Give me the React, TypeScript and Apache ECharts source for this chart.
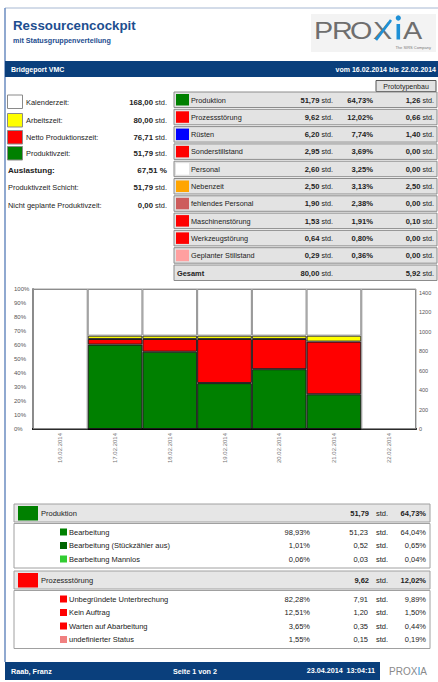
import React, { useEffect, useRef } from "react";
import * as echarts from "echarts";

const FONT = '"Liberation Sans", Arial, Helvetica, sans-serif';

// ---- chart data (minutes per day, 1440 = 100 %) ----
const days = ["16.02.2014", "17.02.2014", "18.02.2014", "19.02.2014", "20.02.2014", "21.02.2014", "22.02.2014"];
const produktivMin = [0, 868, 795, 472, 615, 357, 0];
const nettoMin = [0, 926, 926, 926, 926, 899, 0];
const arbeitMin = [0, 960, 960, 960, 960, 960, 0];
const kalenderMin = [1440, 1440, 1440, 1440, 1440, 1440, 1440];

// ---- left summary ----
const sumLabels = ["Kalenderzeit:", "Arbeitszeit:", "Netto Produktionszeit:", "Produktivzeit:"];
const sumValues = ["168,00", "80,00", "76,71", "51,79"];
const sumColors = ["#ffffff", "#ffff00", "#ff0000", "#008000"];
const auslastung = "67,51 %";
const schicht = "51,79";
const nichtGeplant = "0,00";

// ---- status group table ----
const statusNames = ["Produktion", "Prozessstörung", "Rüsten", "Sonderstillstand", "Personal", "Nebenzeit", "fehlendes Personal", "Maschinenstörung", "Werkzeugstörung", "Geplanter Stillstand"];
const statusHours = ["51,79", "9,62", "6,20", "2,95", "2,60", "2,50", "1,90", "1,53", "0,64", "0,29"];
const statusPct = ["64,73%", "12,02%", "7,74%", "3,69%", "3,25%", "3,13%", "2,38%", "1,91%", "0,80%", "0,36%"];
const statusProto = ["1,26", "0,66", "1,40", "0,00", "0,00", "2,50", "0,00", "0,10", "0,00", "0,00"];
const statusColors = ["#008000", "#ff0000", "#0000ff", "#ff0000", "#ffffff", "#ffa500", "#cd5c5c", "#ff0000", "#ff0000", "#ffa0a0"];
const gesamtHours = "80,00";
const gesamtProto = "5,92";

// ---- detail groups ----
const group1Head = ["Produktion", "51,79", "64,73%"];
const group1Names = ["Bearbeitung", "Bearbeitung (Stückzähler aus)", "Bearbeitung Mannlos"];
const group1Share = ["98,93%", "1,01%", "0,06%"];
const group1Hours = ["51,23", "0,52", "0,03"];
const group1Pct = ["64,04%", "0,65%", "0,04%"];
const group1Colors = ["#008000", "#006400", "#32cd32"];

const group2Head = ["Prozessstörung", "9,62", "12,02%"];
const group2Names = ["Unbegründete Unterbrechung", "Kein Auftrag", "Warten auf Abarbeitung", "undefinierter Status"];
const group2Share = ["82,28%", "12,51%", "3,65%", "1,55%"];
const group2Hours = ["7,91", "1,20", "0,35", "0,15"];
const group2Pct = ["9,89%", "1,50%", "0,44%", "0,19%"];
const group2Colors = ["#ff0000", "#ff0000", "#ff0000", "#f08080"];

const DARK = "#222222";
const BLUE = "#0a3f7c";
const TITLE = "#1d4e8f";
const LOGO_BLUE = "#1e90d6";

function txt(x: number, y: number, text: string, size: number, o: any = {}) {
  const style: any = {
    text,
    fontSize: size,
    fontFamily: FONT,
    fill: o.fill || DARK,
    fontWeight: o.bold ? "bold" : "normal",
    align: o.align || "left",
    verticalAlign: "middle",
  };
  if (o.rich) style.rich = o.rich;
  const el: any = { type: "text", x, y, silent: true, z: 10, style };
  if (o.scaleX) el.scaleX = o.scaleX;
  return el;
}

function richNum(size: number) {
  return { b: { fontWeight: "bold", fontSize: size, fontFamily: FONT, fill: DARK } };
}

function rect(x: number, y: number, w: number, h: number, fill: string, stroke?: string, lw = 1) {
  return {
    type: "rect",
    silent: true,
    z: 5,
    shape: { x, y, width: w, height: h },
    style: { fill, stroke: stroke || null, lineWidth: stroke ? lw : 0 },
  };
}

function buildGraphics() {
  const g: any[] = [];
  // page frame
  g.push({ type: "line", silent: true, shape: { x1: 5, y1: 8, x2: 438, y2: 8 }, style: { stroke: "#a7b8d2", lineWidth: 1 } });
  g.push({ type: "line", silent: true, shape: { x1: 5, y1: 8, x2: 5, y2: 662 }, style: { stroke: "#6b8cc0", lineWidth: 1.5 } });

  // title
  g.push(txt(13, 25, "Ressourcencockpit", 13.3, { bold: true, fill: TITLE }));
  g.push(txt(13, 40, "mit Statusgruppenverteilung", 7.2, { bold: true, fill: TITLE }));

  // logo
  g.push(rect(311, 14, 125, 38, "#f3f3f3"));
  const logoLetters = ["P", "R", "O", "X", "A"];
  const logoX = [314, 332, 350, 373, 403];
  logoLetters.forEach((l, i) => g.push(txt(logoX[i], 31.5, l, 23, { fill: "#6e6e6e", scaleX: 1.25 })));
  g.push({ type: "line", silent: true, z: 11, shape: { x1: 391, y1: 20, x2: 376, y2: 40 }, style: { stroke: LOGO_BLUE, lineWidth: 2.6 } });
  g.push(rect(396.5, 24, 3.6, 15.5, LOGO_BLUE));
  g.push({ type: "circle", silent: true, z: 11, shape: { cx: 398.3, cy: 18, r: 2.6 }, style: { fill: LOGO_BLUE } });
  g.push(txt(431, 47, "The SIRS Company", 4, { fill: "#7a7a7a", align: "right" }));

  // blue header bar
  g.push(rect(5, 61, 433, 16, BLUE));
  g.push(txt(11, 69, "Bridgeport VMC", 7, { bold: true, fill: "#ffffff" }));
  g.push(txt(436, 69, "vom 16.02.2014 bis 22.02.2014", 7, { bold: true, fill: "#ffffff", align: "right" }));

  // Prototypenbau button
  g.push(rect(376, 80.5, 60, 11, "#e2e2e2", "#555555"));
  g.push(txt(406, 86, "Prototypenbau", 7, { align: "center" }));

  // left summary
  const boxTops = [95, 113.5, 130.5, 146.5];
  sumLabels.forEach((l, i) => {
    const t = boxTops[i];
    g.push(rect(7.5, t, 15, 13.5, sumColors[i], "#8a8a8a"));
    g.push(txt(26, t + 7, l, 7.4));
    g.push(txt(167, t + 7, "{b|" + sumValues[i] + "} std.", 7.4, { align: "right", rich: richNum(7.8) }));
  });
  g.push(txt(8, 170, "Auslastung:", 8.1, { bold: true }));
  g.push(txt(167, 170, auslastung, 8.1, { bold: true, align: "right" }));
  g.push(txt(8, 187, "Produktivzeit Schicht:", 7.4));
  g.push(txt(167, 187, "{b|" + schicht + "} std.", 7.4, { align: "right", rich: richNum(7.8) }));
  g.push(txt(8, 205, "Nicht geplante Produktivzeit:", 7.4));
  g.push(txt(167, 205, "{b|" + nichtGeplant + "} std.", 7.4, { align: "right", rich: richNum(7.8) }));

  // status table
  const pitch = 17.3;
  statusNames.forEach((n, i) => {
    const t = 92 + i * pitch;
    g.push(rect(174, t, 263, 15.5, "#e3e3e3", "#8c8c8c"));
    g.push(rect(176, t + 2, 13, 11.5, statusColors[i]));
    g.push(txt(191, t + 8, n, 7.3));
    g.push(txt(333, t + 8, "{b|" + statusHours[i] + "} std.", 7.2, { align: "right", rich: richNum(7.6) }));
    g.push(txt(373, t + 8, statusPct[i], 7.6, { bold: true, align: "right" }));
    g.push(txt(434, t + 8, "{b|" + statusProto[i] + "} std.", 7.2, { align: "right", rich: richNum(7.6) }));
  });
  const gt = 92 + 10 * pitch;
  g.push(rect(174, gt, 263, 15.5, "#e3e3e3", "#8c8c8c"));
  g.push(txt(177, gt + 8, "Gesamt", 7.4, { bold: true }));
  g.push(txt(333, gt + 8, "{b|" + gesamtHours + "} std.", 7.2, { align: "right", rich: richNum(7.6) }));
  g.push(txt(434, gt + 8, "{b|" + gesamtProto + "} std.", 7.2, { align: "right", rich: richNum(7.6) }));

  // detail groups
  const groups = [
    { top: 504, head: group1Head, color: "#008000", names: group1Names, share: group1Share, hours: group1Hours, pct: group1Pct, colors: group1Colors },
    { top: 571, head: group2Head, color: "#ff0000", names: group2Names, share: group2Share, hours: group2Hours, pct: group2Pct, colors: group2Colors },
  ];
  groups.forEach((gr) => {
    g.push(rect(14, gr.top, 416, 18, "#e6e6e6", "#a0a0a0"));
    g.push(rect(18, gr.top + 2, 20, 14.5, gr.color));
    g.push(txt(41, gr.top + 9, gr.head[0], 7.5));
    g.push(txt(369, gr.top + 9, gr.head[1], 7.5, { bold: true, align: "right" }));
    g.push(txt(376, gr.top + 9, "std.", 7.5));
    g.push(txt(426, gr.top + 9, gr.head[2], 7.5, { bold: true, align: "right" }));
    const dTop = gr.top + 19.5;
    const h = gr.names.length * 13.5 + 4;
    g.push(rect(14, dTop, 416, h, "#ffffff", "#a0a0a0"));
    gr.names.forEach((n, i) => {
      const cy = dTop + 8.5 + i * 13.5;
      g.push(rect(60, cy - 3.5, 7, 7, gr.colors[i]));
      g.push(txt(69, cy, n, 7.5));
      g.push(txt(310, cy, gr.share[i], 7.5, { align: "right" }));
      g.push(txt(368, cy, gr.hours[i], 7.5, { align: "right" }));
      g.push(txt(376, cy, "std.", 7.5));
      g.push(txt(426, cy, gr.pct[i], 7.5, { align: "right" }));
    });
  });

  // footer
  g.push(rect(5, 662, 375, 18, BLUE));
  g.push(txt(11, 671, "Raab, Franz", 7.2, { bold: true, fill: "#ffffff" }));
  g.push(txt(173, 671, "Seite 1 von 2", 7.2, { bold: true, fill: "#ffffff" }));
  g.push(txt(375, 670.5, "23.04.2014  13:04:11", 7.2, { bold: true, fill: "#ffffff", align: "right" }));
  g.push(
    txt(408, 671, "{g|PROX}{b|I}{g|A}", 10, {
      align: "center",
      fill: "#8a8a8a",
      rich: {
        g: { fontSize: 10, fontFamily: FONT, fill: "#8a8a8a" },
        b: { fontSize: 10, fontFamily: FONT, fill: LOGO_BLUE },
      },
    })
  );
  return g;
}

export default function App() {
  const ref = useRef<HTMLDivElement>(null);
  useEffect(() => {
    if (!ref.current) return;
    const chart = echarts.init(ref.current, undefined, { renderer: "svg" });
    const green = produktivMin;
    const red = nettoMin.map((v, i) => v - produktivMin[i]);
    const yellow = arbeitMin.map((v, i) => v - nettoMin[i]);
    const white = kalenderMin.map((v, i) => v - arbeitMin[i]);
    const bar = (name: string, data: number[], color: string, border: string) => ({
      name,
      type: "bar",
      stack: "t",
      yAxisIndex: 1,
      data,
      barCategoryGap: "0%",
      itemStyle: { color, borderColor: border, borderWidth: 1 },
      emphasis: { disabled: true },
    });
    chart.setOption({
      animation: false,
      backgroundColor: "#ffffff",
      textStyle: { fontFamily: FONT },
      grid: { left: 33, right: 22, top: 289, bottom: 253, show: true, borderColor: "#a0a0a0", borderWidth: 1, backgroundColor: "transparent" },
      xAxis: {
        type: "category",
        data: days,
        axisTick: { show: false },
        axisLine: { lineStyle: { color: "#000000", width: 2 } },
        axisLabel: { rotate: 90, fontSize: 6, color: "#777777", margin: 4, interval: 0 },
      },
      yAxis: [
        {
          type: "value",
          min: 0,
          max: 100,
          interval: 10,
          position: "left",
          axisLine: { show: true, lineStyle: { color: "#8a8a8a", width: 2 } },
          axisTick: { show: false },
          splitLine: { show: false },
          axisLabel: { formatter: "{value}%", fontSize: 6, color: "#555555", align: "left", margin: 19 },
        },
        {
          type: "value",
          min: 0,
          max: 1440,
          interval: 200,
          position: "right",
          axisLine: { show: false },
          axisTick: { show: false },
          splitLine: { show: false },
          axisLabel: { fontSize: 5.5, color: "#555555", margin: 3, showMaxLabel: false, formatter: (v: number) => String(v) },
        },
      ],
      series: [
        bar("Produktivzeit", green, "#008000", "#1a1a1a"),
        bar("Netto Produktionszeit", red, "#ff0000", "#1a1a1a"),
        bar("Arbeitszeit", yellow, "#ffff00", "#333333"),
        bar("Kalenderzeit", white, "#ffffff", "#8c8c8c"),
      ],
      graphic: buildGraphics(),
    });
    return () => chart.dispose();
  }, []);
  return <div ref={ref} style={{ position: "fixed", left: 0, top: 0, width: 438, height: 682, background: "#fff" }} />;
}
